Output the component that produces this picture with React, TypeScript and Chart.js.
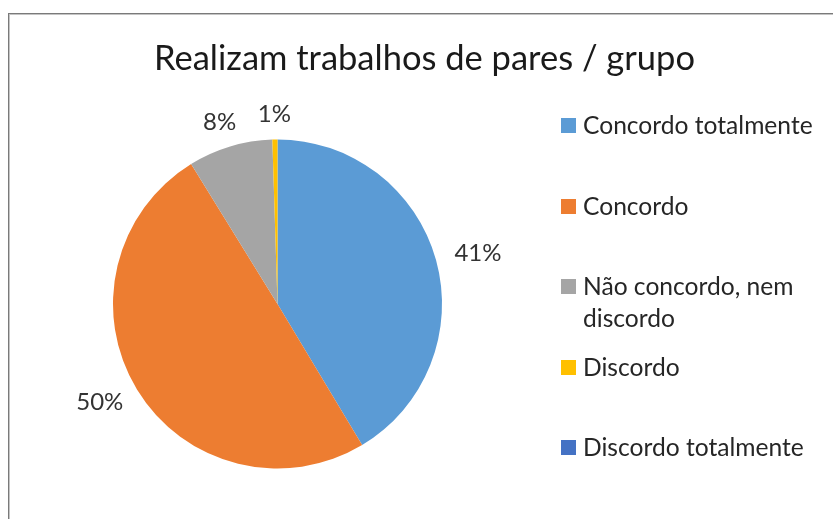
import React, { useEffect, useRef } from "react";
import { Chart, registerables } from "chart.js";

Chart.register(...registerables);

const chartTitle = "Realizam trabalhos de pares / grupo";
const categories = [
  "Concordo totalmente",
  "Concordo",
  "Não concordo, nem discordo",
  "Discordo",
  "Discordo totalmente",
];
const legendLines = [
  ["Concordo totalmente"],
  ["Concordo"],
  ["Não concordo, nem", "discordo"],
  ["Discordo"],
  ["Discordo totalmente"],
];
const values = [41.4, 49.8, 8.3, 0.5, 0];
const colors = ["#5B9BD5", "#ED7D31", "#A5A5A5", "#FFC000", "#4472C4"];

const FONT = "Lato, 'Open Sans', sans-serif";
const LABEL_SIZE = 24;
const LEGEND_SIZE = 24.6;

const pctLabels = {
  id: "pctLabels",
  afterDatasetsDraw(chart: any) {
    const ctx = chart.ctx;
    const meta = chart.getDatasetMeta(0);
    const data = chart.data.datasets[0].data as number[];
    const total = data.reduce((a, b) => a + b, 0);
    ctx.save();
    ctx.font = `${LABEL_SIZE}px ${FONT}`;
    ctx.fillStyle = "#333333";
    ctx.textAlign = "center";
    ctx.textBaseline = "middle";
    meta.data.forEach((arc: any, i: number) => {
      const v = data[i];
      if (!v) return;
      const text = Math.round((v / total) * 100) + "%";
      const mid = (arc.startAngle + arc.endAngle) / 2;
      const w = ctx.measureText(text).width;
      const h = LABEL_SIZE * 0.4;
      const pad = 20;
      const r = arc.outerRadius + pad;
      const x = arc.x + Math.cos(mid) * (r + w / 2);
      const y = arc.y + Math.sin(mid) * (r + h / 2);
      ctx.fillText(text, x, y);
    });
    ctx.restore();
  },
};

export default function App() {
  const ref = useRef<HTMLCanvasElement>(null);
  useEffect(() => {
    if (!ref.current) return;
    const chart = new Chart(ref.current, {
      type: "pie",
      data: {
        labels: categories,
        datasets: [
          {
            data: values,
            backgroundColor: colors,
            borderWidth: 0,
            hoverOffset: 0,
          },
        ],
      },
      options: {
        responsive: false,
        animation: false,
        layout: { padding: { left: 104, right: 391, top: 125.5, bottom: 50.5 } },
        plugins: {
          legend: { display: false },
          title: { display: false },
          tooltip: { enabled: false },
        },
      },
      plugins: [pctLabels],
    });
    return () => chart.destroy();
  }, []);

  const slot = 80.6;
  return (
    <div
      style={{
        position: "fixed",
        left: 8,
        top: 13,
        right: 0,
        bottom: 0,
        borderLeft: "1px solid #7a7a7a",
        borderTop: "1px solid #7a7a7a",
        boxShadow: "inset 1px 1px 0 #c4c4c4",
        background: "#fff",
        overflow: "hidden",
        fontFamily: FONT,
      }}
    >
      <canvas
        ref={ref}
        width={824}
        height={505}
        style={{ position: "absolute", left: 0, top: 0, width: 824, height: 505 }}
      />
      <div
        style={{
          position: "absolute",
          left: 0,
          width: 824,
          paddingLeft: 7,
          boxSizing: "border-box",
          top: 22,
          textAlign: "center",
          fontSize: 34.5,
          lineHeight: "42px",
          color: "#1a1a1a",
          whiteSpace: "nowrap",
        }}
      >
        {chartTitle}
      </div>
      <div style={{ position: "absolute", left: 552, top: 95 }}>
        {legendLines.map((lines, i) => (
          <div
            key={categories[i]}
            style={{
              position: "absolute",
              left: 0,
              top: i * slot,
              display: "flex",
              alignItems: "flex-start",
              whiteSpace: "nowrap",
            }}
          >
            <div
              style={{
                width: 15,
                height: 15,
                marginTop: 9,
                background: colors[i],
                flex: "none",
              }}
            />
            <div
              style={{
                marginLeft: 7,
                fontSize: LEGEND_SIZE,
                lineHeight: "32px",
                color: "#262626",
              }}
            >
              {lines.map((l) => (
                <div key={l}>{l}</div>
              ))}
            </div>
          </div>
        ))}
      </div>
    </div>
  );
}
